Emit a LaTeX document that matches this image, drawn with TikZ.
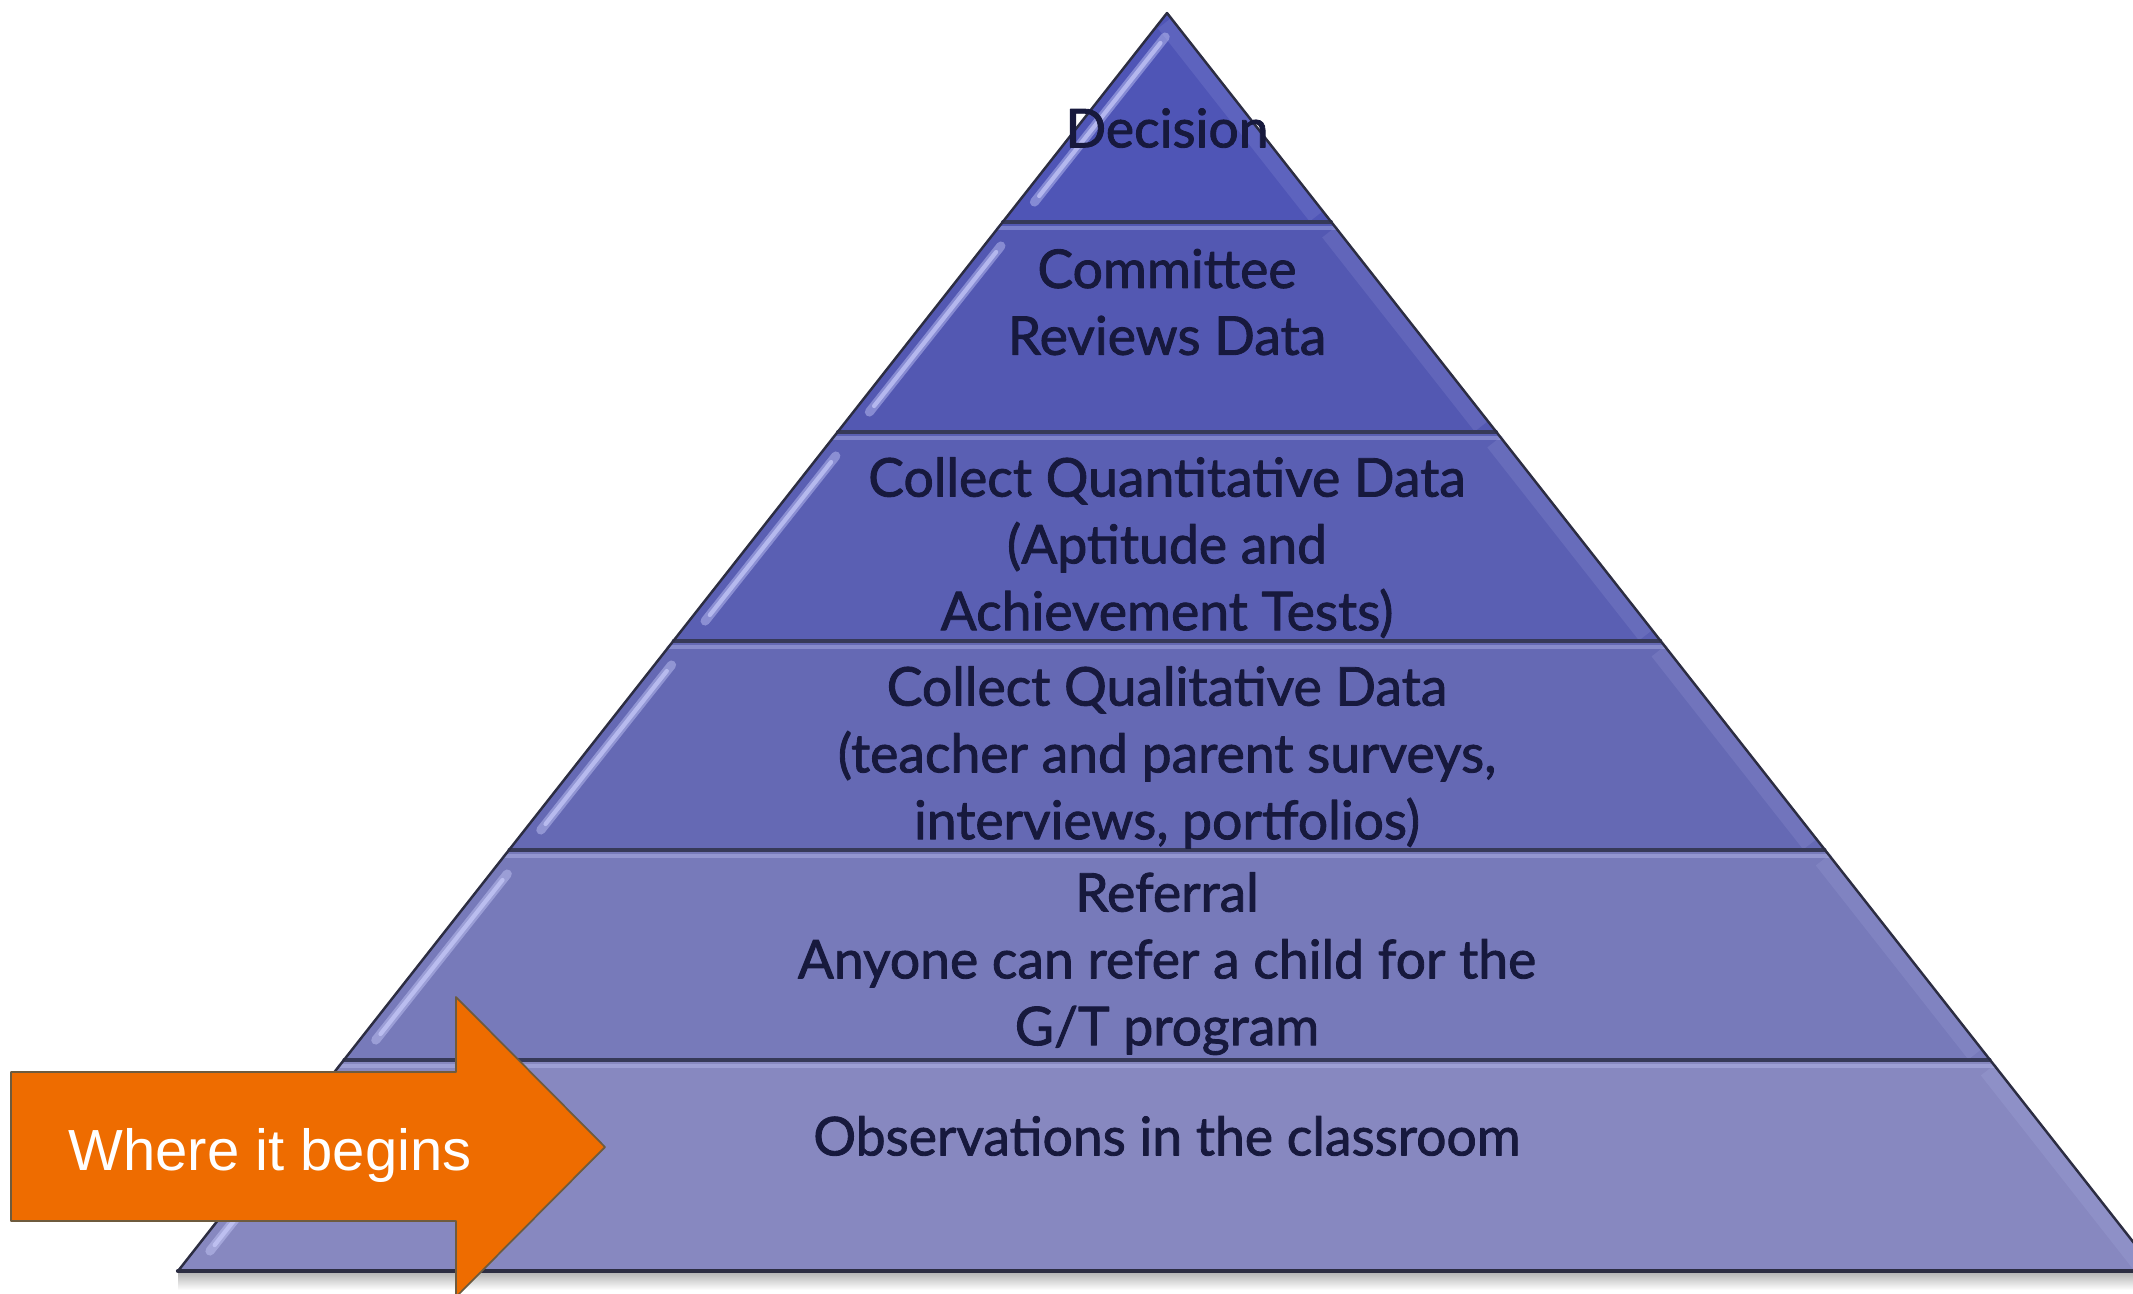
\documentclass[tikz,border=0pt]{standalone}
\usepackage{fontspec}
\setmainfont{Lato}
\newfontfamily\tierfont{Lato}[FakeBold=1.6]
\newfontfamily\calloutfont{Liberation Sans}

% layer fills, darkest at the top
\definecolor{tierA}{HTML}{4F55B6}
\definecolor{tierB}{HTML}{5358B2}
\definecolor{tierC}{HTML}{5A5FB3}
\definecolor{tierD}{HTML}{6569B4}
\definecolor{tierE}{HTML}{777ABA}
\definecolor{tierF}{HTML}{8788C0}
\definecolor{tierink}{HTML}{17193D}
\definecolor{seamcol}{HTML}{363958}
\definecolor{rimcol}{HTML}{2C2D42}
\definecolor{glintcol}{HTML}{C8CBFA}
\definecolor{calloutfill}{HTML}{EE6C00}
\definecolor{calloutrim}{HTML}{6E5B3E}

\begin{document}
\begin{tikzpicture}[x=0.01cm,y=-0.01cm,line cap=round,line join=round,
  tier/.style={font=\tierfont\fontsize{15.2}{19}\selectfont, text=tierink, align=center, inner sep=0pt},
  seam/.style={draw=seamcol, line width=0.9pt},
  glint/.style={draw=glintcol, line width=2.6pt, opacity=0.45},
  glintcore/.style={draw=glintcol, line width=1.2pt, opacity=0.7},
  rim/.style={draw=rimcol, line width=0.7pt}]
\useasboundingbox (0,0) rectangle (2133,1293);
\clip (0,0) rectangle (2133,1293);

% shadow under the base
\shade[top color=black!30, bottom color=white] (178,1272) rectangle (2133,1290);

% the six layers, apex at (1167,13), sides of slope 0.786
\foreach \ya/\yb/\col in {13/222/tierA, 222/432/tierB, 432/641/tierC,
                          641/850/tierD, 850/1060/tierE, 1060/1271/tierF}{
  \fill[fill=\col] ({1167-0.786*(\ya-13)},\ya) -- ({1167+0.786*(\ya-13)},\ya)
    -- ({1167+0.786*(\yb-13)},\yb) -- ({1167-0.786*(\yb-13)},\yb) -- cycle;
  % bevel glint along the left side
  \draw[glint] ({1167-0.786*(\ya+24-13)+17},\ya+24) -- ({1167-0.786*(\yb-20-13)+16},\yb-20);
  \draw[glintcore] ({1167-0.786*(\ya+30-13)+17},\ya+30) -- ({1167-0.786*(\yb-26-13)+16},\yb-26);
  % softer light along the right side
  \draw[draw=glintcol, line width=5pt, opacity=0.12, line cap=butt] ({1167+0.786*(\ya+10-13)-10},\ya+10) -- ({1167+0.786*(\yb-6-13)-10},\yb-6);
}

% seams between the layers
\foreach \y in {222,432,641,850,1060}{
  \draw[draw=glintcol, line width=1.4pt, opacity=0.35] ({1167-0.786*(\y+6-13)},\y+6) -- ({1167+0.786*(\y+6-13)},\y+6);
  \draw[seam] ({1167-0.786*(\y-13)},\y) -- ({1167+0.786*(\y-13)},\y);
}

% outline
\draw[rim] (178,1271) -- (1167,13) -- (2156,1271);
\draw[rimcol, line width=1.2pt] (178,1271) -- (2156,1271);

% labels
\node[tier] (decision) at (1167,134) {\strut Decision};
\node[tier] (committee) at (1167,308) {\strut Committee\\\strut Reviews Data};
\node[tier] (quantdata) at (1167,550) {\strut Collect Quantitative Data\\\strut (Aptitude and\\\strut Achievement Tests)};
\node[tier] (qualdata) at (1167,759) {\strut Collect Qualitative Data\\\strut (teacher and parent surveys,\\\strut interviews, portfolios)};
\node[tier] (referral) at (1167,965) {\strut Referral\\\strut Anyone can refer a child for the\\\strut G/T program};
\node[tier] (observe) at (1167,1142) {\strut Observations in the classroom};

% callout arrow
\filldraw[fill=calloutfill, draw=calloutrim, line width=0.5pt]
  (11,1072) -- (456,1072) -- (456,997) -- (605,1147) -- (456,1297)
  -- (456,1221) -- (11,1221) -- cycle;
\node[font=\calloutfont\fontsize{16.5}{20}\selectfont, text=white, anchor=base] (begins) at (270,1170) {Where it begins};
\end{tikzpicture}
\end{document}
